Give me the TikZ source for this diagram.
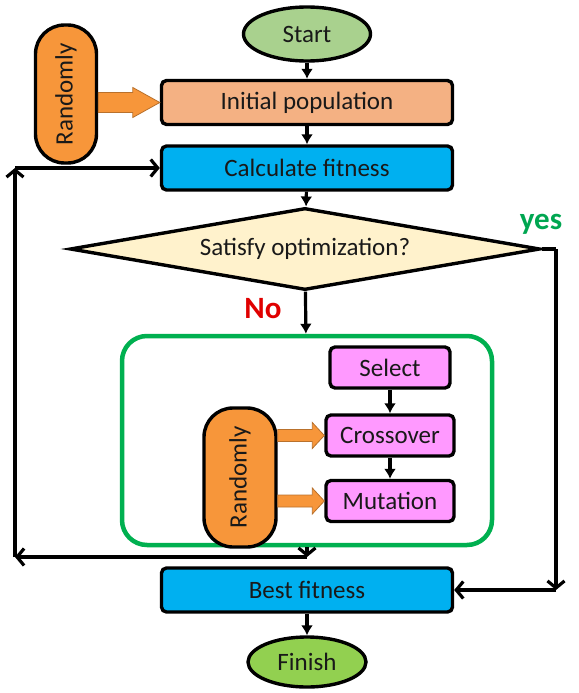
\documentclass[tikz,border=0pt]{standalone}
\usepackage{fontspec}
\setmainfont{Carlito}
\usepackage{tikz}
\usetikzlibrary{arrows.meta, positioning, calc, shapes.geometric}

\definecolor{startgreen}{HTML}{A9D18E}
\definecolor{finishgreen}{HTML}{92D050}
\definecolor{peach}{HTML}{F4B183}
\definecolor{skyblue}{HTML}{00B0F0}
\definecolor{cream}{HTML}{FFF2CC}
\definecolor{randorange}{HTML}{F7963A}
\definecolor{pinkbox}{HTML}{FF99FF}
\definecolor{framegreen}{HTML}{00B050}
\definecolor{nored}{HTML}{E00000}
\definecolor{yesgreen}{HTML}{00A651}

% #1 from anchor, #2 to node, #3 half shaft, #4 half head, #5 head length
\newcommand{\fatarrow}[5]{%
  \draw[fat] let \p1=(#1), \p2=(#2.west) in
    (\x1,\y2+#3) -- (\x2-#5,\y2+#3) -- (\x2-#5,\y2+#4) -- (\x2,\y2)
    -- (\x2-#5,\y2-#4) -- (\x2-#5,\y2-#3) -- (\x1,\y2-#3) -- cycle;}

\begin{document}
\begin{tikzpicture}[x=1pt, y=-1pt,
    txt/.style={font=\fontsize{25}{29}\selectfont, text=black!90},
    box/.style={txt, draw, line width=3.4pt, rounded corners=5pt, minimum width=291pt, minimum height=44pt},
    oval/.style={txt, draw, line width=3.4pt, ellipse, inner sep=0pt},
    opbox/.style={txt, draw, line width=3.4pt, rounded corners=5pt, fill=pinkbox, minimum height=41pt},
    randbox/.style={txt, draw, line width=3.4pt, fill=randorange, rounded corners=29pt, inner sep=0pt},
    fat/.style={fill=randorange, draw=randorange!75!black, line width=0.8pt},
    flow/.style={line width=3.2pt, -{Latex[length=10pt,width=12pt]}},
    back/.style={line width=3.2pt, -{Straight Barb[length=7pt,width=17pt,line width=3.2pt]}},
    line/.style={line width=3.2pt}]
    \useasboundingbox (0,0) rectangle (578,693);

    \node[oval, fill=startgreen, minimum width=127pt, minimum height=54pt] (start) at (307,34) {Start};
    \node[box, fill=peach] (init) at (307,102.5) {Initial population};
    \node[box, fill=skyblue] (calc) at (307,168) {Calculate fitness};
    \node[txt, draw, line width=3.4pt, fill=cream, diamond, aspect=5.7, inner sep=0pt,
          minimum width=470pt, minimum height=82pt] (cond) at (305,249) {Satisfy optimization?};
    \node[randbox, rotate=90, minimum width=138pt, minimum height=61pt] (rand1) at (66,94) {Randomly};

    \node[draw=framegreen, line width=4.5pt, rounded corners=25pt, minimum width=370pt, minimum height=209pt] (loop) at (307,440.5) {};
    \node[opbox, minimum width=120pt] (select) at (390,367.5) {Select};
    \node[opbox, minimum width=128pt] (cross) at (390,435.5) {Crossover};
    \node[opbox, minimum width=128pt] (mut) at (390,501) {Mutation};
    \node[randbox, rotate=90, minimum width=139pt, minimum height=72pt] (rand2) at (240,477.5) {Randomly};

    \node[box, fill=skyblue] (best) at (307,590) {Best fitness};
    \node[oval, fill=finishgreen, minimum width=118pt, minimum height=50pt] (finish) at (307,662) {Finish};

    \node[font=\bfseries\fontsize{31}{35}\selectfont, text=nored] (nolbl) at (263,309) {No};
    \node[font=\bfseries\fontsize{31}{35}\selectfont, text=yesgreen] (yeslbl) at (541,224) {yes};

    \coordinate (jn) at (307,557);
    \coordinate (bl) at (15,557);
    \coordinate (tl) at (15,168);
    \coordinate (yr) at (556,249);
    \coordinate (br) at (556,590);

    \draw[flow] (start) -- (init);
    \draw[flow] (init) -- (calc);
    \draw[flow] (calc) -- (cond);
    \draw[flow] (cond) -- (loop);
    \draw[flow] (select) -- (cross);
    \draw[flow] (cross) -- (mut);
    \draw[flow] (best) -- (finish);

    \draw[back] (loop.south) -- (jn);
    \draw[back] (jn) -- (bl);
    \draw[back] (bl) -- (tl);
    \draw[back] (tl) -- (calc.west);
    \draw[line] (cond.east) -- (yr);
    \draw[back] (yr) -- (br);
    \draw[back] (br) -- (best.east);

    \fatarrow{rand1.south}{init}{10}{15}{27}
    \fatarrow{rand2.south}{cross}{6}{13}{12}
    \fatarrow{rand2.south}{mut}{6}{13}{12}
\end{tikzpicture}
\end{document}
